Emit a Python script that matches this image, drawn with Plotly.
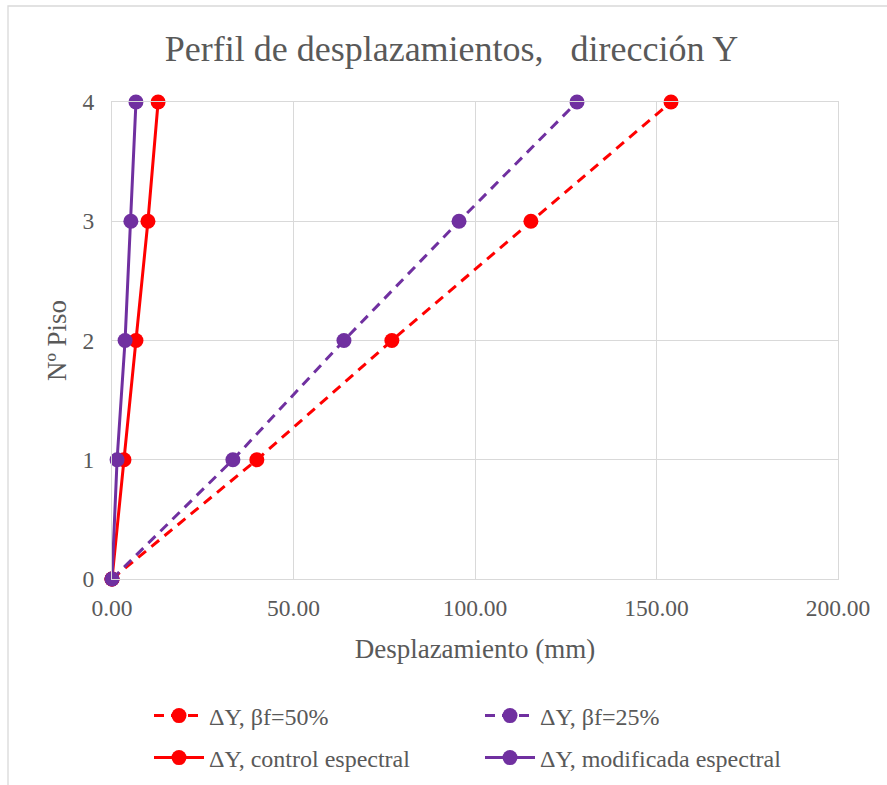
import plotly.graph_objects as go

pisos = [0, 1, 2, 3, 4]
dy_bf50 = [0, 39.9, 77.1, 115.4, 154.0]
dy_bf25 = [0, 33.3, 63.9, 95.6, 128.1]
dy_control = [0, 3.3, 6.6, 9.9, 12.7]
dy_modif = [0, 1.4, 3.6, 5.2, 6.6]
names = ["ΔY, βf=50%", "ΔY, βf=25%", "ΔY, control espectral", "ΔY, modificada espectral"]
x_ticks = [0, 50, 100, 150, 200]
x_ticklabels = ["0.00", "50.00", "100.00", "150.00", "200.00"]
y_ticks = [0, 1, 2, 3, 4]

RED = "#FF0000"
PURPLE = "#7030A0"
GREY = "#595959"
FONT = "Liberation Serif"

fig = go.Figure()
series = [
    (dy_bf50, names[0], RED, "10px,7px", "legend"),
    (dy_bf25, names[1], PURPLE, "10px,7px", "legend"),
    (dy_control, names[2], RED, "solid", "legend2"),
    (dy_modif, names[3], PURPLE, "solid", "legend2"),
]
for vals, nm, col, dash, lg in series:
    fig.add_trace(go.Scatter(
        x=vals, y=pisos, name=nm, mode="lines+markers",
        line=dict(color=col, width=3, dash=dash),
        marker=dict(color=col, size=15),
        cliponaxis=False, legend=lg,
    ))

leg_common = dict(orientation="h", xanchor="left", yanchor="middle",
                  entrywidth=266, entrywidthmode="pixels", itemwidth=50,
                  font=dict(size=24, color=GREY, family=FONT),
                  bgcolor="rgba(0,0,0,0)")
x_leg = (149 - 112) / 726

fig.update_layout(
    width=887, height=785,
    margin=dict(l=112, r=49, t=102, b=206, autoexpand=False),
    paper_bgcolor="white", plot_bgcolor="white",
    font=dict(family=FONT, color=GREY, size=23),
    title=dict(text="Perfil de desplazamientos,\u00a0\u00a0\u00a0dirección Y",
               x=0.509, xref="container", xanchor="center",
               y=1 - 48 / 785, yref="container", yanchor="middle",
               font=dict(size=36, color=GREY, family=FONT)),
    xaxis=dict(range=[0, 200], tickvals=x_ticks, ticktext=x_ticklabels,
               showgrid=True, gridcolor="#D9D9D9", gridwidth=1.3,
               showline=True, linecolor="#D9D9D9", linewidth=1.3, mirror=True,
               zeroline=False, ticks="", ticklabelstandoff=8,
               title=dict(text="Desplazamiento (mm)", font=dict(size=27, family=FONT), standoff=18),
               tickfont=dict(size=23.5, family=FONT)),
    yaxis=dict(range=[0, 4], tickvals=y_ticks,
               showgrid=True, gridcolor="#D9D9D9", gridwidth=1.3,
               showline=True, linecolor="#D9D9D9", linewidth=1.3, mirror=True,
               zeroline=False, ticks="", ticklabelstandoff=12,
               title=dict(text="Nº Piso", font=dict(size=27, family=FONT), standoff=7),
               tickfont=dict(size=23.5, family=FONT)),
    legend=dict(leg_common, x=x_leg, y=(579 - 716) / 477),
    legend2=dict(leg_common, x=x_leg, y=(579 - 758) / 477),
    showlegend=True,
)

# chart area border
fig.add_shape(type="rect", xref="paper", yref="paper",
              x0=(8 - 112) / 726, x1=(900 - 112) / 726,
              y0=(579 - 800) / 477, y1=(579 - 6) / 477,
              line=dict(color="#D9D9D9", width=1.3), layer="below")

fig.write_html("out.html")
